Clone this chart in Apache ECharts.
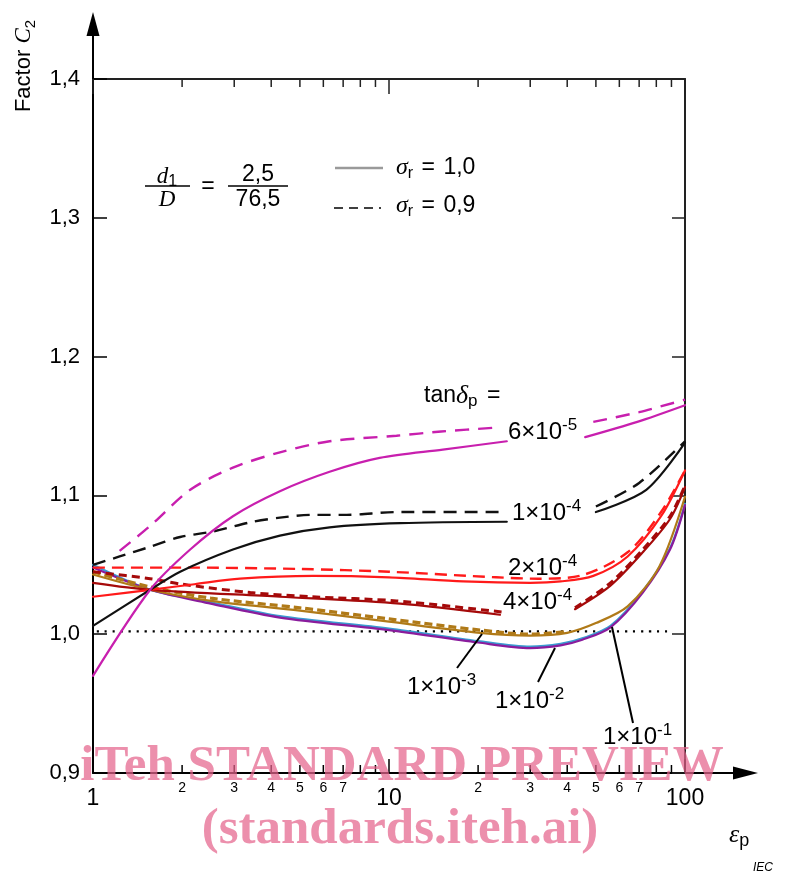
<!DOCTYPE html>
<html><head><meta charset="utf-8">
<script src="https://cdn.jsdelivr.net/npm/echarts@6/dist/echarts.min.js"></script>
<style>html,body{margin:0;padding:0;background:#fff}#c{width:785px;height:877px}</style>
</head><body><div id="c"></div>
<script>
const SANS = '"Liberation Sans", Arial, sans-serif';
const SERIF = '"Liberation Serif", "Times New Roman", serif';

// axis ticks / labels
const yTicks = [0.9, 1.0, 1.1, 1.2, 1.3, 1.4];
const xMinorTicks = [2, 3, 4, 5, 6, 7, 8, 9, 20, 30, 40, 50, 60, 70, 80, 90];
const xMinorLabels = [2, 3, 4, 5, 6, 7, 20, 30, 40, 50, 60, 70];

// curves: [eps_p, C2]; '-' marks a gap in the line (label area)
const tan6e5_s10 = [[1,0.970],[1.56,1.032],[2.13,1.061],[2.97,1.085],[4.28,1.103],[6.3,1.117],[9.3,1.127],[15.2,1.133],[25,1.139],[35,'-'],[46,1.142],[69,1.153],[100,1.165]];
const tan6e5_s09 = [[1.23,1.060],[1.56,1.078],[2.13,1.104],[2.97,1.120],[4.28,1.131],[6.3,1.139],[10.6,1.143],[15,1.146],[23.7,1.149],[35,'-'],[49,1.153],[70,1.160],[100,1.169]];
const tan1e4_s10 = [[1,1.006],[1.56,1.032],[1.97,1.045],[2.97,1.061],[4.28,1.071],[6.3,1.077],[10.9,1.080],[25,1.081],[37,'-'],[50,1.088],[74,1.104],[100,1.138]];
const tan1e4_s09 = [[1,1.050],[1.23,1.056],[1.56,1.063],[1.97,1.070],[2.54,1.074],[3.47,1.081],[4.28,1.084],[5.54,1.086],[7.2,1.086],[10.6,1.088],[24,1.088],[37,'-'],[50,1.092],[70,1.109],[100,1.139]];
const tan2e4_s10 = [[1,1.027],[1.56,1.032],[2.2,1.036],[3.14,1.040],[5.54,1.042],[10,1.041],[17.8,1.038],[30,1.037],[38,1.038],[49,1.042],[64,1.056],[83,1.085],[100,1.118]];
const tan2e4_s09 = [[1,1.048],[2,1.048],[5,1.047],[10,1.045],[23,1.041],[32,1.040],[44,1.042],[64,1.059],[83,1.088],[100,1.118]];
const tan4e4_s10 = [[1,1.037],[1.56,1.032],[4.28,1.027],[10.9,1.022],[23.7,1.014],[33,'-'],[42.5,1.018],[56,1.035],[72,1.059],[89,1.083],[100,1.106]];
const tan4e4_s09 = [[1,1.045],[1.56,1.040],[2.0,1.036],[3.4,1.030],[5.5,1.027],[10.6,1.024],[24,1.016],[33,'-'],[42.5,1.019],[56,1.037],[72,1.061],[89,1.085],[100,1.107]];
const tan1e3_s10 = [[1,1.043],[1.56,1.032],[2.5,1.024],[5,1.017],[10,1.009],[20.3,1.001],[30,0.999],[40,1.001],[50,1.008],[64,1.020],[82,1.049],[100,1.099]];
const tan1e3_s09 = [[1,1.045],[1.56,1.034],[2.5,1.026],[5,1.019],[10,1.011],[20.3,1.003],[30,1.000],[40,1.002]];
const tan1e2_s10 = [[1,1.048],[1.56,1.032],[2.5,1.022],[4.28,1.012],[10,1.003],[20,0.994],[30,0.990],[38,0.992],[45,0.996],[56,1.005],[72,1.030],[89,1.061],[100,1.093]];
const tan1e1_s10 = [[1,1.050],[1.56,1.032],[2.5,1.023],[4.28,1.013],[10,1.004],[20,0.995],[30,0.991],[38,0.993],[45,0.997],[56,1.006],[72,1.031],[89,1.062],[100,1.094]];
const limitLine = [[1.03,1.002],[91,1.002]];

const chart = echarts.init(document.getElementById('c'), null, {renderer: 'canvas'});

function ser(name, data, color, type, width, z) {
  return {
    name, type: 'line', data, xAxisIndex: 0, yAxisIndex: 0,
    showSymbol: false, symbol: 'none', smooth: 0.3, connectNulls: false,
    lineStyle: {color, width, type, cap: type === 'solid' ? 'round' : 'butt'},
    z, silent: true, animation: false
  };
}

const noAxisExtras = {splitLine: {show: false}, minorTick: {show: false}};
const option = {
  animation: false,
  backgroundColor: '#fff',
  grid: {left: 93, right: 100, top: 79, bottom: 104, containLabel: false},
  xAxis: [
    Object.assign({type: 'log', logBase: 10, min: 1, max: 100, position: 'bottom',
      axisLine: {show: true, lineStyle: {color: '#000', width: 2}},
      axisTick: {show: true, inside: true, length: 14, lineStyle: {color: '#000', width: 1.5}},
      axisLabel: {show: true, fontSize: 23, fontFamily: SANS, color: '#000', margin: 14}}, noAxisExtras),
    Object.assign({type: 'log', logBase: 10, min: 1, max: 100, position: 'top',
      axisLine: {show: true, lineStyle: {color: '#222', width: 2}},
      axisTick: {show: true, inside: true, length: 15, lineStyle: {color: '#222', width: 1.5}},
      axisLabel: {show: false}}, noAxisExtras)
  ],
  yAxis: [
    Object.assign({type: 'value', min: 0.9, max: 1.4, interval: 0.1, position: 'left',
      axisLine: {show: true, lineStyle: {color: '#000', width: 2}},
      axisTick: {show: true, inside: true, length: 14, lineStyle: {color: '#000', width: 1.5}},
      axisLabel: {show: true, fontSize: 22, fontFamily: SANS, color: '#000', margin: 13,
        formatter: v => v.toFixed(1).replace('.', ',')}}, noAxisExtras),
    Object.assign({type: 'value', min: 0.9, max: 1.4, interval: 0.1, position: 'right',
      axisLine: {show: true, lineStyle: {color: '#222', width: 2}},
      axisTick: {show: true, inside: true, length: 13, lineStyle: {color: '#222', width: 1.5}},
      axisLabel: {show: false}}, noAxisExtras)
  ],
  series: [
    ser('limit', limitLine, '#000', [2.2, 5.8], 2.2, 2),
    ser('1e-1', tan1e1_s10, '#3a9ad0', 'solid', 2.2, 3),
    ser('1e-2', tan1e2_s10, '#8a1c9c', 'solid', 2.2, 4),
    ser('1e-3 d', tan1e3_s09, '#b07a18', [8, 4], 3.2, 5),
    ser('1e-3', tan1e3_s10, '#b07a18', 'solid', 2.2, 5),
    ser('4e-4 d', tan4e4_s09, '#a50a0a', [8, 5], 3, 6),
    ser('4e-4', tan4e4_s10, '#a50a0a', 'solid', 2.2, 6),
    ser('2e-4 d', tan2e4_s09, '#ff1a1a', [12, 7], 2.4, 7),
    ser('2e-4', tan2e4_s10, '#ff1a1a', 'solid', 2.2, 7),
    ser('1e-4 d', tan1e4_s09, '#111', [13, 8], 2.4, 8),
    ser('1e-4', tan1e4_s10, '#111', 'solid', 2.2, 8),
    ser('6e-5 d', tan6e5_s09, '#c81fae', [14, 9], 2.4, 9),
    ser('6e-5', tan6e5_s10, '#c81fae', 'solid', 2.2, 9)
  ]
};
chart.setOption(option);

// ---- decorations computed from the chart's own scales ----
const px = v => chart.convertToPixel({xAxisIndex: 0}, v);
const py = v => chart.convertToPixel({yAxisIndex: 0}, v);
const xL = px(1), xR = px(100), yB = py(0.9), yT = py(1.4);
const g = [];
const line = (x1, y1, x2, y2, stroke, lw, dash) => g.push({type: 'line', silent: true, z: 20,
  shape: {x1, y1, x2, y2}, style: {stroke, lineWidth: lw, lineDash: dash || null}});
const text = (x, y, t, opt) => g.push({type: 'text', silent: true, z: 30, x, y,
  style: Object.assign({text: t, fill: '#000', fontFamily: SANS, fontSize: 21, align: 'left', verticalAlign: 'middle'}, opt || {})});

// minor ticks and their labels
xMinorTicks.forEach(v => {
  const x = px(v);
  line(x, yB, x, yB - 8, '#000', 1.5);
  line(x, yT, x, yT + 8, '#222', 1.5);
});
xMinorLabels.forEach(v => {
  text(px(v), yB + 15, String(v).charAt(0), {fontSize: 14, align: 'center'});
});

// axis extensions with arrows
line(xL, yT, xL, 32, '#000', 2);
g.push({type: 'polygon', silent: true, z: 21, shape: {points: [[xL, 12], [xL - 6.5, 36], [xL + 6.5, 36]]}, style: {fill: '#000'}});
line(xR, yB, 738, yB, '#000', 2);
g.push({type: 'polygon', silent: true, z: 21, shape: {points: [[758, yB], [733, yB - 6.5], [733, yB + 6.5]]}, style: {fill: '#000'}});

// axis titles
g.push({type: 'text', silent: true, z: 30, x: 24, y: 66, rotation: Math.PI / 2,
  style: {text: 'Factor {i|C}{s|2}', fontFamily: SANS, fontSize: 22, fill: '#000', align: 'center', verticalAlign: 'middle', lineHeight: 28,
    rich: {i: {fontFamily: SERIF, fontStyle: 'italic', fontSize: 23, lineHeight: 28}, s: {fontFamily: SANS, fontSize: 15, verticalAlign: 'bottom', lineHeight: 18}}}});
text(729, 835, '{e|ε}{s|p}', {lineHeight: 30, rich: {e: {fontFamily: SERIF, fontStyle: 'italic', fontSize: 26, lineHeight: 30}, s: {fontFamily: SANS, fontSize: 18, verticalAlign: 'bottom', lineHeight: 22}}});
text(753, 868, 'IEC', {fontSize: 12, fontStyle: 'italic'});

// d1/D = 2,5/76,5
text(167, 177, '{d|d}{s|1}', {align: 'center', lineHeight: 26, rich: {d: {fontFamily: SERIF, fontStyle: 'italic', fontSize: 23, lineHeight: 26}, s: {fontSize: 16, verticalAlign: 'bottom', lineHeight: 16}}});
line(145, 186, 190, 186, '#000', 1.3);
text(167, 200, 'D', {align: 'center', fontFamily: SERIF, fontStyle: 'italic', fontSize: 23});
text(208, 187, '=', {align: 'center', fontSize: 23});
text(258, 175, '2,5', {align: 'center', fontSize: 23});
line(228, 186, 288, 186, '#000', 1.3);
text(258, 200, '76,5', {align: 'center', fontSize: 23});

// legend
const sigRich = {g: {fontFamily: SERIF, fontStyle: 'italic', fontSize: 24, lineHeight: 28}, s: {fontSize: 16, verticalAlign: 'bottom', lineHeight: 18}, sp: {fontSize: 23, padding: [0, 2, 0, 2]}};
line(335, 168, 383, 168, '#9a9a9a', 2.5);
text(396, 168, '{g|σ}{s|r}{sp| = }1,0', {fontSize: 23, lineHeight: 28, rich: sigRich});
line(334, 208, 381, 208, '#000', 1.5, [9, 6]);
text(396, 206, '{g|σ}{s|r}{sp| = }0,9', {fontSize: 23, lineHeight: 28, rich: sigRich});

// tan delta labels
text(424, 396, 'tan{d|δ}{s|p}{sp| = }', {fontSize: 23, lineHeight: 28, rich: {d: {fontFamily: SERIF, fontStyle: 'italic', fontSize: 26, lineHeight: 28}, s: {fontSize: 17, verticalAlign: 'bottom', lineHeight: 18}, sp: {fontSize: 23, padding: [0, 2, 0, 3]}}});
const supRich = {s: {fontSize: 17, verticalAlign: 'top', lineHeight: 16, fontFamily: SANS}};
[[508, 432, '6×10{s|-5}'], [512, 513, '1×10{s|-4}'], [508, 568, '2×10{s|-4}'], [503, 602, '4×10{s|-4}'],
 [407, 687, '1×10{s|-3}'], [495, 701, '1×10{s|-2}'], [603, 737, '1×10{s|-1}']].forEach(([x, y, t]) => {
  text(x, y, t, {fontSize: 24, lineHeight: 30, rich: supRich});
});
// leader lines
line(482, 634, 457, 668, '#000', 2);
line(555, 648, 538, 682, '#000', 2);
line(612, 627, 633, 723, '#000', 2);

// watermark
const wm = {fill: 'rgba(228,100,140,0.72)', fontFamily: SERIF, fontWeight: 'bold', fontSize: 51, align: 'center', verticalAlign: 'middle'};
g.push({type: 'text', silent: true, z: 50, x: 402, y: 767, style: Object.assign({text: 'iTeh STANDARD PREVIEW'}, wm)});
g.push({type: 'text', silent: true, z: 50, x: 400, y: 830, style: Object.assign({text: '(standards.iteh.ai)'}, wm)});

chart.setOption({graphic: {elements: g}});
</script></body></html>
